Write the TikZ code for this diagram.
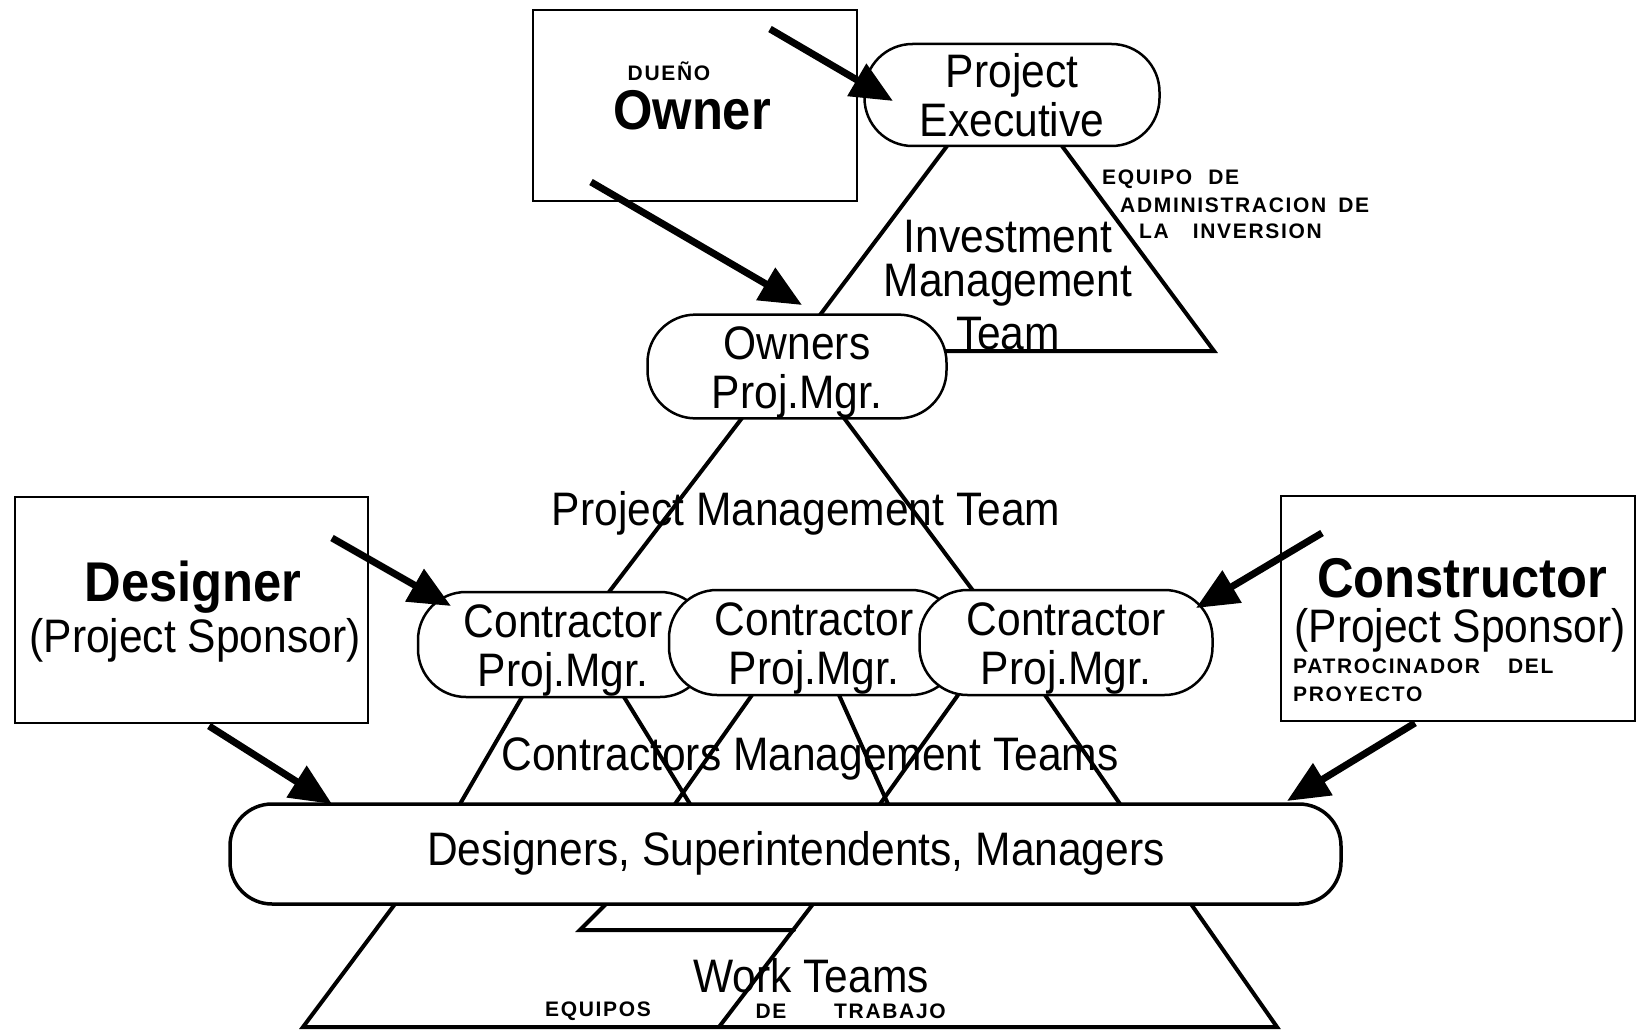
\documentclass[tikz,border=0pt]{standalone}
\usepackage{fontspec}
\setmainfont{Liberation Sans}[FakeStretch=0.905]
\newfontfamily\spfont{Liberation Sans}[LetterSpace=8]
\usetikzlibrary{arrows.meta}
\newcommand{\txtbig}{\fontsize{47}{49}\selectfont}
\newcommand{\txtbold}{\fontsize{56}{56}\selectfont\bfseries}
\newcommand{\txtsp}{\spfont\bfseries\fontsize{21}{26}\selectfont}
\newcommand{\lowstrut}{\rule{0pt}{45pt}}
\tikzset{
  pill/.style={draw, line width=2.5pt, fill=white, rounded corners=48pt, align=center, inner sep=0pt, font=\txtbig},
  box/.style={draw, line width=2.5pt, fill=white, inner sep=0pt},
  tri/.style={line width=4pt, line cap=round},
  arr/.style={line width=7pt, -{Triangle[length=42pt,width=36pt]}},
  lbl/.style={inner sep=0pt, align=center, font=\txtbig},
  sp/.style={inner sep=0pt, anchor=west, font=\txtsp}
}
\begin{document}
\begin{tikzpicture}[x=1pt,y=-1pt]
\useasboundingbox[fill=white] (0,0) rectangle (1638,1030);

% ---- coordinates for triangle lines ----
\coordinate (it1) at (947,146);  \coordinate (it2) at (820,315);
\coordinate (it3) at (1062,146); \coordinate (it4) at (1214,351);
\coordinate (it5) at (930,351);
\coordinate (pm1) at (742,418);  \coordinate (pm2) at (609,592);
\coordinate (pm3) at (844,418);  \coordinate (pm4) at (974,592);
\coordinate (c1a) at (522,697);  \coordinate (c1b) at (460,804);
\coordinate (c1c) at (624,697);  \coordinate (c1d) at (690,804);
\coordinate (c2a) at (752,695);  \coordinate (c2b) at (675,804);
\coordinate (c2c) at (839,695);  \coordinate (c2d) at (888,804);
\coordinate (c3a) at (958,695);  \coordinate (c3b) at (880,804);
\coordinate (c3c) at (1045,695); \coordinate (c3d) at (1120,804);
\coordinate (w1) at (395,904);  \coordinate (w2) at (303,1027);
\coordinate (w3) at (1191,904); \coordinate (w4) at (1277,1027);
\coordinate (w5) at (813,904);  \coordinate (w6) at (719,1027);
\coordinate (w7) at (606,904);  \coordinate (w8) at (580,930);
\coordinate (w9) at (794,930);

% ---- triangle lines ----
\draw[tri] (it1) -- (it2);
\draw[tri] (it3) -- (it4) -- (it5);
\draw[tri] (pm1) -- (pm2);
\draw[tri] (pm3) -- (pm4);
\draw[tri] (c1a) -- (c1b);
\draw[tri] (c1c) -- (c1d);
\draw[tri] (c2a) -- (c2b);
\draw[tri] (c2c) -- (c2d);
\draw[tri] (c3a) -- (c3b);
\draw[tri] (c3c) -- (c3d);
\draw[tri] (w1) -- (w2) -- (w4) -- (w3);
\draw[tri] (w5) -- (w6);
\draw[tri] (w7) -- (w8) -- (w9);

% ---- boxes ----
\node[box, minimum width=324pt, minimum height=191pt] (owner) at (695,105.5) {};
\node[box, minimum width=353pt, minimum height=226pt] (designer) at (191.5,610) {};
\node[box, minimum width=354pt, minimum height=225pt] (constructor) at (1458,608.5) {};

% ---- pills ----
\node[pill, minimum width=295pt, minimum height=102pt] (pe) at (1012,95) {Project\\Executive};
\node[pill, minimum width=299pt, minimum height=103pt] (opm) at (797,366.5) {\lowstrut Owners\\Proj.Mgr.};
\node[pill, minimum width=290pt, minimum height=105pt] (cpm1) at (563,644.5) {\lowstrut Contractor\\Proj.Mgr.};
\node[pill, minimum width=290pt, minimum height=105pt] (cpm2) at (814,642.5) {\lowstrut Contractor\\Proj.Mgr.};
\node[pill, minimum width=293pt, minimum height=105pt] (cpm3) at (1066,642.5) {\lowstrut Contractor\\Proj.Mgr.};
\node[draw, line width=3.5pt, fill=white, rounded corners=42pt, inner sep=0pt,
      minimum width=1111pt, minimum height=100pt] (dsm) at (785.5,854) {};
\node[lbl] (dsmt) at (796,853) {Designers, Superintendents, Managers};

% ---- box texts ----
\node[inner sep=0pt, font=\txtsp] (dueno) at (669,71) {DUEÑO};
\node[inner sep=0pt, font=\txtbold] (ownert) at (692,110) {Owner};
\node[inner sep=0pt, font=\txtbold] (designert) at (193,587) {Designer};
\node[lbl] (designers) at (195,640) {(Project Sponsor)};
\node[inner sep=0pt, font=\txtbold] (constructort) at (1462,578) {Constructor};
\node[lbl] (constructors) at (1460,630) {(Project Sponsor)};
\node[sp] (patro) at (1293,666) {PATROCINADOR\hspace{28pt}DEL};
\node[sp] (proy) at (1293,694) {PROYECTO};

% ---- team labels ----
\node[lbl] (inv1) at (1008,237) {Investment};
\node[lbl] (inv2) at (1008,285) {Management};
\node[lbl] (inv3) at (1008,334) {Team};
\node[sp] (eq1) at (1102,179) {EQUIPO\hspace{16pt}DE};
\node[sp] (eq2) at (1120,205) {ADMINISTRACION\hspace{12pt}DE};
\node[sp] (eq3) at (1139,231) {LA\hspace{24pt}INVERSION};
\node[lbl] (pmt) at (806,513) {Project Management Team};
\node[lbl] (cmt) at (810,759) {Contractors Management Teams};
\node[lbl] (wt) at (811,976) {Work Teams};
\node[inner sep=0pt, font=\txtsp] (eqs) at (598,1011) {EQUIPOS};
\node[inner sep=0pt, font=\txtsp] (de) at (771,1011) {DE};
\node[inner sep=0pt, font=\txtsp] (trab) at (890,1011) {TRABAJO};

% ---- arrows ----
\coordinate (a1s) at (770,29);   \coordinate (a1e) at (893,101);
\coordinate (a2s) at (591,182);  \coordinate (a2e) at (802,305);
\coordinate (a3s) at (332,538);  \coordinate (a3e) at (451,606);
\coordinate (a4s) at (209,726);  \coordinate (a4e) at (332,804);
\coordinate (a5s) at (1322,533); \coordinate (a5e) at (1196,608);
\coordinate (a6s) at (1415,723); \coordinate (a6e) at (1287,801);
\draw[arr] (a1s) -- (a1e);
\draw[arr] (a2s) -- (a2e);
\draw[arr] (a3s) -- (a3e);
\draw[arr] (a4s) -- (a4e);
\draw[arr] (a5s) -- (a5e);
\draw[arr] (a6s) -- (a6e);
\end{tikzpicture}
\end{document}
